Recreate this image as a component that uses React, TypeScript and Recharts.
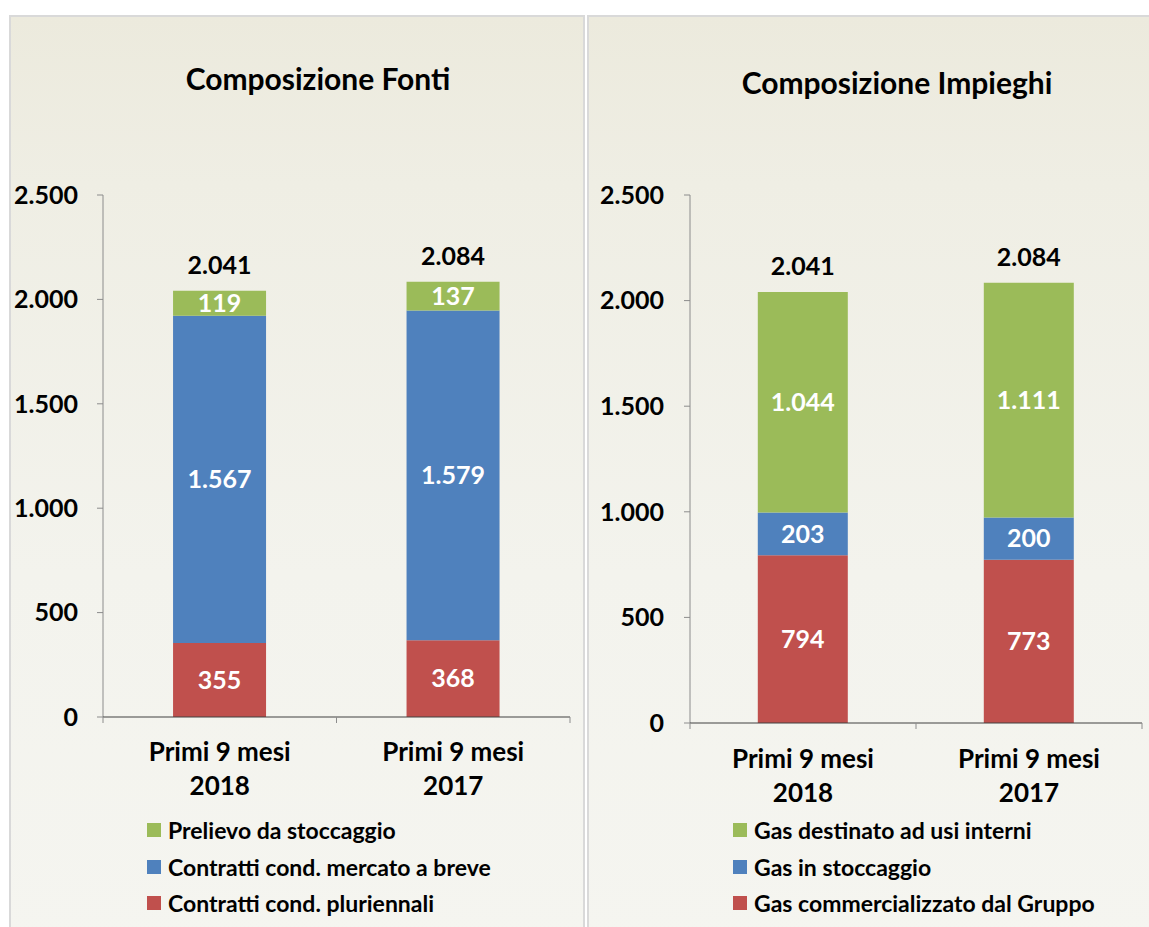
import { BarChart, Bar, XAxis, YAxis, LabelList } from 'recharts';

const periods = ['Primi 9 mesi|2018', 'Primi 9 mesi|2017'];
const yTicks = [0, 500, 1000, 1500, 2000, 2500];

// Composizione Fonti
const fontiPluriennali = [355, 368];
const fontiBreve = [1567, 1579];
const fontiStoccaggio = [119, 137];
const fontiTotali = [2041, 2084];

// Composizione Impieghi
const impCommerciale = [794, 773];
const impStoccaggio = [203, 200];
const impUsiInterni = [1044, 1111];
const impTotali = [2041, 2084];

const RED = '#c0504d';
const BLUE = '#4f81bd';
const GREEN = '#9bbb59';
const FONT = 'Lato, "Open Sans", sans-serif';

const fmt = (v: number) => String(v).replace(/\B(?=(\d{3})+(?!\d))/g, '.');

const fontiData = periods.map((p, i) => ({
  name: p,
  a: fontiPluriennali[i],
  b: fontiBreve[i],
  c: fontiStoccaggio[i],
}));

const impieghiData = periods.map((p, i) => ({
  name: p,
  a: impCommerciale[i],
  b: impStoccaggio[i],
  c: impUsiInterni[i],
}));

const XTick = (props: any) => {
  const { x, y, payload, index, visibleTicksCount, width, line1 } = props;
  const half = payload.offset ?? width / (2 * visibleTicksCount);
  const [l1, l2] = String(payload.value).split('|');
  return (
    <g>
      <line x1={x - half} x2={x - half} y1={y} y2={y + 6} stroke="#8c8c8c" />
      {index === visibleTicksCount - 1 && (
        <line x1={x + half} x2={x + half} y1={y} y2={y + 6} stroke="#8c8c8c" />
      )}
      <text x={x} y={y + line1} textAnchor="middle" fontFamily={FONT} fontWeight={700} fontSize={26} fill="#000">
        {l1}
      </text>
      <text x={x} y={y + line1 + 34} textAnchor="middle" fontFamily={FONT} fontWeight={700} fontSize={26} fill="#000">
        {l2}
      </text>
    </g>
  );
};

const makeTotalLabel = (totals: number[]) => (props: any) => {
  const { x, y, width, index } = props;
  return (
    <text x={x + width / 2} y={y - 26} dy={9} textAnchor="middle" fontFamily={FONT} fontWeight={700} fontSize={25} fill="#000">
      {fmt(totals[index])}
    </text>
  );
};

const segLabel = {
  position: 'center' as const,
  fill: '#fff',
  fontFamily: FONT,
  fontWeight: 700,
  fontSize: 25,
  formatter: (v: any) => fmt(Number(v)),
};

const Legend = ({ items, left }: { items: [string, string][]; left: number }) => (
  <div style={{ position: 'absolute', left, top: 812 }}>
    {items.map(([label, color]) => (
      <div key={label} style={{ display: 'flex', alignItems: 'center', height: 36.5 }}>
        <div style={{ width: 14, height: 14, background: color, marginRight: 7 }} />
        <span style={{ fontFamily: FONT, fontWeight: 700, fontSize: 23, color: '#000' }}>{label}</span>
      </div>
    ))}
  </div>
);

const panelStyle = (left: number, width: number): React.CSSProperties => ({
  position: 'absolute',
  left,
  top: 15,
  width,
  height: 930,
  boxSizing: 'border-box',
  border: '2px solid #d9d9d9',
  background: 'linear-gradient(#ecEadd 0%, #efeee4 18%, #f3f3ed 60%, #f5f5f0 100%)',
});

const Chart = ({ data, totals, left, width, yWidth, right, bottom, line1, tickGap }: any) => (
  <div style={{ position: 'absolute', left, top: 15 }}>
    <BarChart
      width={width}
      height={912}
      data={data}
      margin={{ top: 180, right, bottom, left: 0 }}
      barCategoryGap="30%"
    >
      <YAxis
        width={yWidth}
        domain={[0, 2500]}
        ticks={yTicks}
        tickFormatter={fmt}
        axisLine={{ stroke: '#8c8c8c' }}
        tickLine={{ stroke: '#8c8c8c' }}
        tickSize={6}
        tickMargin={tickGap}
        tick={{ fill: '#000', fontFamily: FONT, fontWeight: 700, fontSize: 25 }}
      />
      <XAxis
        dataKey="name"
        height={100}
        axisLine={{ stroke: '#404040' }}
        tickLine={false}
        tickSize={0}
        tickMargin={0}
        interval={0}
        tick={<XTick line1={line1} />}
      />
      <Bar dataKey="a" stackId="s" fill={RED} isAnimationActive={false}>
        <LabelList dataKey="a" {...segLabel} />
      </Bar>
      <Bar dataKey="b" stackId="s" fill={BLUE} isAnimationActive={false}>
        <LabelList dataKey="b" {...segLabel} />
      </Bar>
      <Bar dataKey="c" stackId="s" fill={GREEN} isAnimationActive={false}>
        <LabelList dataKey="c" {...segLabel} />
        <LabelList dataKey="c" content={makeTotalLabel(totals)} />
      </Bar>
    </BarChart>
  </div>
);

export default function App() {
  return (
    <div style={{ position: 'absolute', left: 0, top: 0, width: 1149, height: 927, background: '#fff', overflow: 'hidden' }}>
      <div style={panelStyle(9, 576)} />
      <div style={panelStyle(587, 570)} />
      <div style={{ position: 'absolute', left: 118, width: 400, top: 60, textAlign: 'center', fontFamily: FONT, fontWeight: 700, fontSize: 30, color: '#000' }}>
        Composizione Fonti
      </div>
      <div style={{ position: 'absolute', left: 697, width: 400, top: 64, textAlign: 'center', fontFamily: FONT, fontWeight: 700, fontSize: 30, color: '#000' }}>
        Composizione Impieghi
      </div>
      <Chart data={fontiData} totals={fontiTotali} left={9} width={575} yWidth={94} right={14} bottom={110} line1={44} tickGap={19} />
      <Chart data={impieghiData} totals={impTotali} left={587} width={562} yWidth={103} right={7} bottom={104} line1={45} tickGap={20} />
      <Legend left={147} items={[['Prelievo da stoccaggio', GREEN], ['Contratti cond. mercato a breve', BLUE], ['Contratti cond. pluriennali', RED]]} />
      <Legend left={733} items={[['Gas destinato ad usi interni', GREEN], ['Gas in stoccaggio', BLUE], ['Gas commercializzato dal Gruppo', RED]]} />
    </div>
  );
}
